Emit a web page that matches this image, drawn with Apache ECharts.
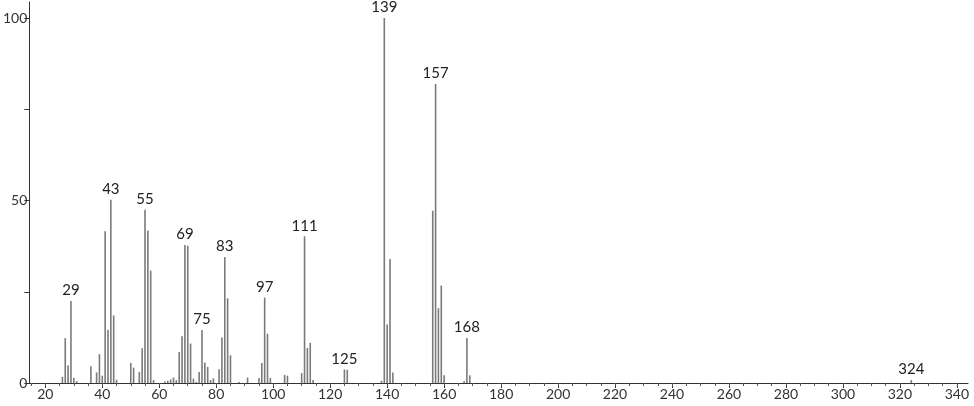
<!DOCTYPE html>
<html>
<head>
<meta charset="utf-8">
<script src="https://cdn.jsdelivr.net/npm/echarts@6/dist/echarts.min.js"></script>
<style>
  html, body { margin: 0; padding: 0; background: #fff; }
  #chart { width: 974px; height: 406px; }
</style>
</head>
<body>
<div id="chart"></div>
<script>
// m/z of each peak and its relative intensity (%)
const mz = [
  26, 27, 28, 29, 30, 31,
  36, 38, 39, 40, 41, 42, 43, 44, 45,
  50, 51, 53, 54, 55, 56, 57, 58,
  62, 63, 64, 65, 66, 67, 68, 69, 70, 71, 72, 73, 74, 75, 76, 77, 78, 79,
  81, 82, 83, 84, 85, 88, 91, 95, 96, 97, 98, 99,
  104, 105, 110, 111, 112, 113, 114,
  125, 126, 138, 139, 140, 141, 142,
  156, 157, 158, 159, 160, 167, 168, 169, 324
]
const intensity = [
  1.7, 12.3, 4.8, 22.5, 1.4, 0.5,
  4.6, 2.9, 7.9, 2, 41.6, 14.6, 50.2, 18.5, 0.9,
  5.5, 4.2, 3, 9.5, 47.5, 41.8, 30.8, 0.8,
  0.4, 0.6, 1, 1.5, 0.8, 8.5, 12.8, 37.8, 37.6, 10.8, 1.2, 0.3, 3, 14.5, 5.6, 4.4, 0.8, 1.3,
  3.8, 12.5, 34.5, 23.2, 7.6, 0.3, 1.5, 1.4, 5.5, 23.4, 13.5, 1.4,
  2.2, 2, 2.7, 40.2, 9.6, 11, 0.8,
  3.7, 3.6, 0.6, 100, 16, 34, 2.9,
  47.2, 81.9, 20.5, 26.7, 2.1, 0.5, 12.3, 2.1, 0.8
]
// peaks that carry a label
const labeledPeaks = [29, 43, 55, 69, 75, 83, 97, 111, 125, 139, 157, 168, 324]

// axis ticks
const xLabelTicks = [20, 40, 60, 80, 100, 120, 140, 160, 180, 200, 220, 240, 260, 280, 300, 320, 340]
const xMinorTicks = []
for (let v = 15; v <= 340; v += 5) xMinorTicks.push(v)
const yTicks = [0, 25, 50, 75, 100]
const yLabelTicks = [0, 50, 100]

const font = 'Lato, "DejaVu Sans", sans-serif'

const chart = echarts.init(document.getElementById('chart'))

const peaks = mz.map((m, i) => ({
  value: [m, intensity[i]],
  label: { show: labeledPeaks.includes(m) }
}))

chart.setOption({
  animation: false,
  grid: { left: 29, right: 6, top: 2, bottom: 23 },
  xAxis: [{
    type: 'value',
    min: 14.4,
    max: 343.9,
    axisLine: { show: true, lineStyle: { color: '#333', width: 1 } },
    axisTick: { show: true, length: 5, customValues: xLabelTicks, lineStyle: { color: '#333' } },
    axisLabel: {
      customValues: xLabelTicks,
      color: '#333',
      fontFamily: font,
      fontSize: 14,
      margin: 4
    },
    splitLine: { show: false }
  },
  {
    type: 'value',
    position: 'bottom',
    min: 14.4,
    max: 343.9,
    axisLine: { show: false },
    axisTick: { show: true, length: 3, customValues: xMinorTicks, lineStyle: { color: '#555' } },
    axisLabel: { show: false },
    splitLine: { show: false }
  }],
  yAxis: {
    type: 'value',
    min: 0,
    max: 104.4,
    axisLine: { show: true, lineStyle: { color: '#333', width: 1 } },
    axisTick: { show: true, length: 5, customValues: yTicks, lineStyle: { color: '#333' } },
    axisLabel: {
      customValues: yLabelTicks,
      color: '#333',
      fontFamily: font,
      fontSize: 14,
      margin: 2
    },
    splitLine: { show: false }
  },
  series: [{
    type: 'bar',
    barWidth: 1.6,
    itemStyle: { color: '#7a7a7a' },
    label: {
      show: false,
      position: 'top',
      distance: 3,
      color: '#222',
      fontFamily: font,
      fontSize: 15,
      formatter: p => p.value[0]
    },
    data: peaks
  }]
})
</script>
</body>
</html>
